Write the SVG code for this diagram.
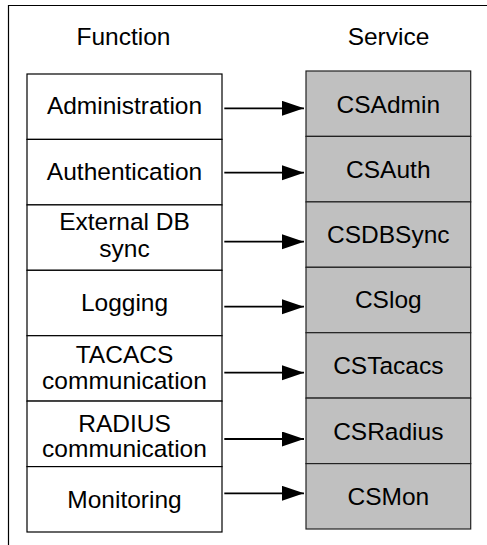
<svg xmlns="http://www.w3.org/2000/svg" width="487" height="545" viewBox="0 0 487 545">
<style>
text{font-family:"Liberation Sans",Arial,sans-serif;font-size:24.5px;fill:#000;text-anchor:middle}
.fn{fill:#fff;stroke:#000;stroke-width:1.2}
.sv{fill:#c0c0c0;stroke:#222;stroke-width:1.2}
.cn{stroke:#000;stroke-width:1.8;fill:none;marker-end:url(#ah)}
</style>
<defs>
<marker id="ah" markerUnits="userSpaceOnUse" markerWidth="24" markerHeight="16" refX="22" refY="7.5" orient="auto">
<path d="M0,0 L22,7.5 L0,15 Z" fill="#000"/>
</marker>
</defs>
<rect width="487" height="545" fill="#fff"/>
<path d="M487,5.5 H8.5 V545" fill="none" stroke="#000" stroke-width="1.2"/>
<text x="123.5" y="45">Function</text>
<text x="388.5" y="45">Service</text>
<g id="f1"><rect class="fn" x="27" y="74" width="195" height="65.4"/><text x="124.5" y="113.5">Administration</text></g>
<g id="f2"><rect class="fn" x="27" y="139.4" width="195" height="65.5"/><text x="124.5" y="179.5">Authentication</text></g>
<g id="f3"><rect class="fn" x="27" y="204.9" width="195" height="65.4"/><text x="124.5" y="230">External DB</text><text x="124.5" y="257">sync</text></g>
<g id="f4"><rect class="fn" x="27" y="270.3" width="195" height="65.4"/><text x="124.5" y="310.5">Logging</text></g>
<g id="f5"><rect class="fn" x="27" y="335.7" width="195" height="65.4"/><text x="124.5" y="363.3">TACACS</text><text x="124.5" y="389">communication</text></g>
<g id="f6"><rect class="fn" x="27" y="401.1" width="195" height="65.5"/><text x="124.5" y="431.7">RADIUS</text><text x="124.5" y="457">communication</text></g>
<g id="f7"><rect class="fn" x="27" y="466.6" width="195" height="65.4"/><text x="124.5" y="507.5">Monitoring</text></g>
<g id="s1"><rect class="sv" x="306" y="71" width="164.7" height="65.4"/><text x="388.3" y="113">CSAdmin</text></g>
<g id="s2"><rect class="sv" x="306" y="136.4" width="164.7" height="65.5"/><text x="388.3" y="177.5">CSAuth</text></g>
<g id="s3"><rect class="sv" x="306" y="201.9" width="164.7" height="65.4"/><text x="388.3" y="242.5">CSDBSync</text></g>
<g id="s4"><rect class="sv" x="306" y="267.3" width="164.7" height="65.4"/><text x="388.3" y="308.3">CSlog</text></g>
<g id="s5"><rect class="sv" x="306" y="332.7" width="164.7" height="65.4"/><text x="388.3" y="373.5">CSTacacs</text></g>
<g id="s6"><rect class="sv" x="306" y="398.1" width="164.7" height="65.5"/><text x="388.3" y="439.5">CSRadius</text></g>
<g id="s7"><rect class="sv" x="306" y="463.6" width="164.7" height="65.4"/><text x="388.3" y="505">CSMon</text></g>
<g id="connectors">
<path class="cn" d="M224.3,108.3 H304"/>
<path class="cn" d="M224.3,172.7 H304"/>
<path class="cn" d="M224.3,241.7 H304"/>
<path class="cn" d="M224.3,306.7 H304"/>
<path class="cn" d="M224.3,372.7 H304"/>
<path class="cn" d="M224.3,439 H304"/>
<path class="cn" d="M224.3,493.3 H304"/>
</g>
</svg>
